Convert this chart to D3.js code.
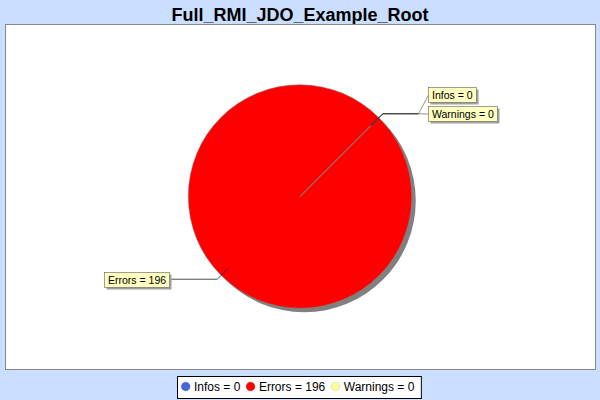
<!DOCTYPE html>
<html><head><meta charset="utf-8">
<script src="https://cdn.jsdelivr.net/npm/d3@7"></script>
<style>body{margin:0;background:#CADEFF;} svg{display:block;}</style>
</head><body>
<svg id="c" width="600" height="400"></svg>
<script>
const title = "Full_RMI_JDO_Example_Root";
const categories = ["Infos", "Errors", "Warnings"];
const values = [0, 196, 0];
const colors = ["#4566DD", "#FF0000", "#FFFFA0"];

const svg = d3.select("#c");
const W = 600, H = 400;
const font = "'Liberation Sans', Arial, sans-serif";
svg.append("rect").attr("width", W).attr("height", H).attr("fill", "#CADEFF");

// title
svg.append("text").attr("x", W / 2).attr("y", 21).attr("text-anchor", "middle")
  .attr("font-family", font).attr("font-weight", "bold").attr("font-size", 18)
  .attr("fill", "#000").text(title);

// plot area
const plot = {x: 5.5, y: 24.5, w: 590, h: 345};
svg.append("rect").attr("x", plot.x).attr("y", plot.y).attr("width", plot.w).attr("height", plot.h)
  .attr("fill", "#fff").attr("stroke", "#888").attr("stroke-width", 1);

const cx = 300, cy = 196.5, r = 111.5;
const data = categories.map((c, i) => ({cat: c, value: values[i], color: colors[i]}));
const pie = d3.pie().sort(null).value(d => d.value)
  .startAngle(Math.PI / 4).endAngle(Math.PI / 4 + 2 * Math.PI);
const arcs = pie(data);
const arc = d3.arc().innerRadius(0).outerRadius(r);

// shadow
const sh = svg.append("g").attr("transform", `translate(${cx + 4},${cy + 4})`);
sh.selectAll("path").data(arcs.filter(a => a.value > 0)).join("path")
  .attr("d", arc).attr("fill", "#808080");

const g = svg.append("g").attr("transform", `translate(${cx},${cy})`);
g.selectAll("path.s").data(arcs.filter(a => a.value > 0)).join("path").attr("class", "s")
  .attr("d", arc).attr("fill", d => d.data.color).attr("stroke", "#808080").attr("stroke-width", 0.5);

// slice boundary radial lines
const pt = (ang, rad) => [Math.sin(ang) * rad, -Math.cos(ang) * rad];
arcs.forEach(a => {
  const p = pt(a.startAngle, r);
  g.append("line").attr("x1", 0).attr("y1", 0).attr("x2", p[0]).attr("y2", p[1])
    .attr("stroke", "#808080").attr("stroke-width", 0.7);
});

// labels
const labelG = svg.append("g");
const groups = {};
const TAU = 2 * Math.PI;
arcs.forEach(a => {
  let mid = ((a.startAngle + a.endAngle) / 2) % TAU;
  a.mid = mid;
  const key = mid.toFixed(3);
  (groups[key] = groups[key] || []).push(a);
});
Object.values(groups).forEach(list => {
  const mid = list[0].mid;
  const inner = pt(mid, r * 0.9), elbow = pt(mid, r + 5.5);
  const ax = cx + inner[0], ay = cy + inner[1];
  const ex = cx + elbow[0], ey = cy + elbow[1];
  const right = Math.sin(mid) > 0;
  const n = list.length;
  list.forEach((a, i) => {
    const ly = ey + (i - (n - 1)) * 19;
    const t = labelG.append("text").attr("font-family", font).attr("font-size", 10.5)
      .text(`${a.data.cat} = ${a.data.value}`);
    const tw = t.node().getComputedTextLength();
    const bw = Math.round(tw + 7), bh = 15;
    const bx = right ? cx + r + 17 : cx - r - 19 - bw;
    const by = Math.round(ly - bh / 2) + 0.5;
    const hx = right ? bx - 10 : bx + bw + 2;
    labelG.append("polyline")
      .attr("points", [[ax, ay], [ex, ey], [hx, ey]].map(p => p.join(",")).join(" "))
      .attr("fill", "none").attr("stroke", "#222").attr("stroke-width", 0.8);
    labelG.append("line").attr("x1", hx).attr("y1", ey)
      .attr("x2", right ? bx : bx + bw).attr("y2", by + bh / 2)
      .attr("stroke", "#777").attr("stroke-width", 0.8);
    labelG.append("rect").attr("x", bx + 2).attr("y", by + 2).attr("width", bw).attr("height", bh)
      .attr("fill", "#A0A0A0");
    labelG.append("rect").attr("x", bx).attr("y", by).attr("width", bw).attr("height", bh)
      .attr("fill", "#FFFFC0").attr("stroke", "#606060").attr("stroke-width", 0.6);
    t.attr("x", bx + 3.5).attr("y", by + 11.2).raise();
  });
});

// legend
const leg = svg.append("g");
let x = 0;
const items = [];
data.forEach((d, i) => {
  const cxp = x + 8.7;
  const t = leg.append("text").attr("font-family", font).attr("font-size", 12)
    .attr("x", cxp + 8.3).attr("y", 391).text(`${d.cat} = ${d.value}`);
  const tw = t.node().getComputedTextLength();
  items.push({cx: cxp, d});
  x = cxp + 8.3 + tw + 1.5;
});
const lw = x + 5;
leg.selectAll("circle").data(items).join("circle")
  .attr("cx", d => d.cx).attr("cy", 386.5).attr("r", 4.3)
  .attr("fill", d => d.d.color).attr("stroke", d => d3.color(d.d.color).darker(0.6)).attr("stroke-width", 0.5);
leg.insert("rect", ":first-child").attr("x", 0.5).attr("y", 376.5).attr("width", lw).attr("height", 22)
  .attr("fill", "#fff").attr("stroke", "#000").attr("stroke-width", 1);
leg.attr("transform", `translate(${Math.round(300 - lw / 2) - 1},0)`);
</script>
</body></html>
